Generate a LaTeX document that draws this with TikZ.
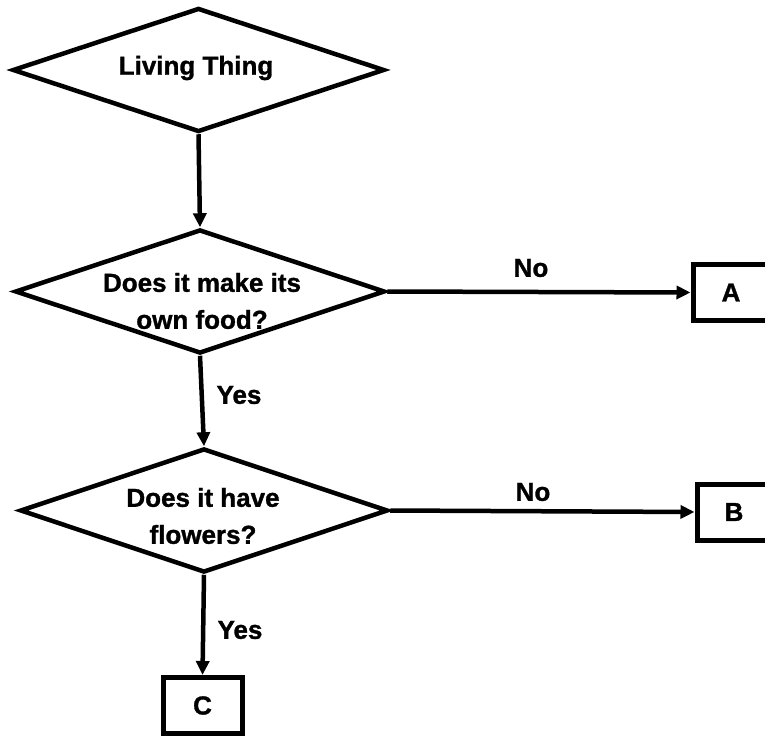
\documentclass[tikz,border=0pt]{standalone}
\usepackage{fontspec}
\setmainfont{Liberation Sans}
\newfontfamily\heavyfont{Liberation Sans Bold}[FakeBold=1.2]
\usetikzlibrary{shapes.geometric,arrows.meta}
\begin{document}
\begin{tikzpicture}[x=1pt,y=-1pt,
  dia/.style={draw=black,line width=4.5pt,shape=diamond,inner sep=0pt,minimum width=#1,minimum height=124pt},
  txt/.style={font=\fontsize{26}{37}\selectfont\heavyfont,align=center,inner sep=0pt},
  lbl/.style={font=\fontsize{26}{30}\selectfont\heavyfont,inner sep=0pt},
  boxn/.style={draw=black,line width=5pt,rectangle,inner sep=0pt,minimum height=56pt,font=\fontsize{26}{30}\selectfont\heavyfont},
  arr/.style={line width=4.5pt,-{Triangle[length=14pt,width=13pt]}}]
\useasboundingbox (0,0) rectangle (765,738);
\node[dia=372pt] (d1) at (198.5,70) {};
\node[txt] (t1) at (196,68) {Living Thing};
\node[dia=370pt] (d2) at (200,291.5) {};
\node[txt] (t2) at (202,301) {Does it make its\\own food?};
\node[dia=368pt] (d3) at (204,510.5) {};
\node[txt] (t3) at (203,516) {Does it have\\flowers?};
\node[boxn,minimum width=76pt] (bA) at (731,292.5) {A};
\node[boxn,minimum width=74pt] (bB) at (734,512) {B};
\node[boxn,minimum width=79pt] (bC) at (202.5,705.5) {C};
\draw[arr] (d1.south) -- (d2.north);
\draw[arr] (d2.south) -- (d3.north);
\draw[arr] (d3.south) -- (bC.north);
\draw[arr] (d2.east) -- (bA.west);
\draw[arr] (d3.east) -- (bB.west);
\node[lbl] (n1) at (531,268) {No};
\node[lbl] (n2) at (533,492) {No};
\node[lbl] (y1) at (239,395) {Yes};
\node[lbl] (y2) at (240,630) {Yes};
\end{tikzpicture}
\end{document}
